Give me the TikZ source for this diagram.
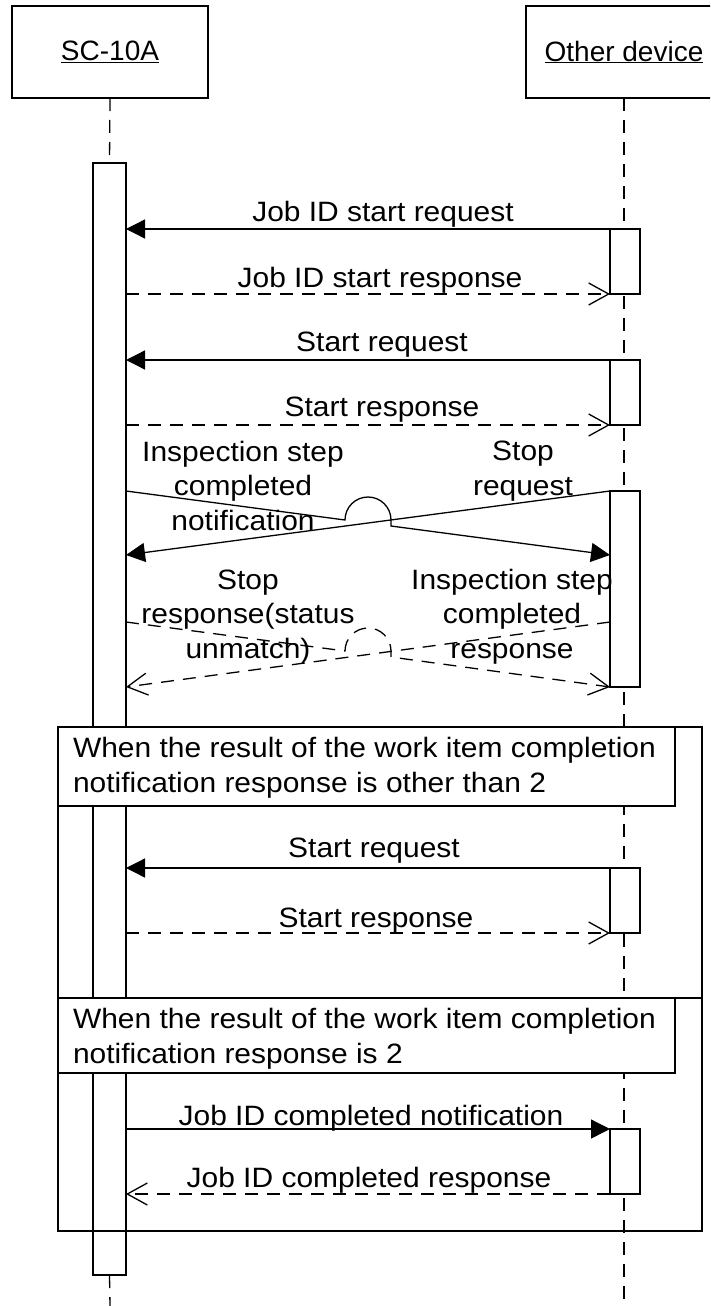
\documentclass[tikz,border=0pt]{standalone}
\usepackage{fontspec}
\setmainfont{Liberation Sans}[FakeStretch=1.07]
\newfontfamily\headfont{Liberation Sans}
\usetikzlibrary{arrows.meta,calc}
\begin{document}
\begin{tikzpicture}[x=1pt,y=-1pt,
  every node/.style={inner sep=0pt, outer sep=0pt},
  lw/.style={line width=1.3pt, line join=miter},
  head/.style={draw, lw, minimum width=196pt, minimum height=92pt, font=\headfont\fontsize{28pt}{34pt}\selectfont},
  life/.style={lw, dash pattern=on 13pt off 9pt},
  actbar/.style={draw, lw, fill=white, minimum width=33pt},
  rbar/.style={draw, lw, fill=white, minimum width=30pt},
  fragframe/.style={draw, lw, anchor=north west, minimum width=644pt},
  fraglabel/.style={draw, lw, fill=white, anchor=north west, minimum width=617pt},
  fragtext/.style={font=\fontsize{28pt}{35pt}\selectfont, anchor=base west, align=left},
  lbl/.style={font=\fontsize{28pt}{34.5pt}\selectfont, anchor=base, align=center},
  msg/.style={lw, -{Triangle[length=19pt,width=19pt]}},
  ret/.style={lw, dash pattern=on 13pt off 9pt, -{Straight Barb[length=20pt,width=22pt]}},
]
\useasboundingbox (0,0) rectangle (710,1306);
\clip (0,0) rectangle (710,1306);
\fill[white] (0,0) rectangle (710,1306);

% participants
\node[head] (sc) at (110,52) {\underline{SC-10A}};
\node[head] (od) at (624,52) {\underline{Other device}};
\coordinate (lend) at (110,1306);
\coordinate (rend) at (624,1306);

% right lifeline (behind the activation bars)
\draw[life] (od.south) -- (rend);

% left activation bar and lifeline
\node[actbar, minimum height=1112pt] (lbar) at (109.5,719) {};
\draw[life] (sc.south) -- (lbar.north);
\draw[life] (lbar.south) -- (lend);

% right activation bars
\node[rbar, minimum height=65pt] (rb1) at (625,261.5) {};
\node[rbar, minimum height=65pt] (rb2) at (625,392.5) {};
\node[rbar, minimum height=196pt] (rb3) at (625,589) {};
\node[rbar, minimum height=65pt] (rb4) at (625,900.5) {};
\node[rbar, minimum height=65pt] (rb5) at (625,1161.5) {};

% combined fragments
\node[fragframe, minimum height=271pt] (f1) at (58,727) {};
\node[fraglabel, minimum height=79pt] (f1l) at (58,727) {};
\node[fragtext] (f1t) at (73,792) {When the result of the work item completion\\notification response is other than 2};
\node[fragframe, minimum height=233pt] (f2) at (58,998) {};
\node[fraglabel, minimum height=75pt] (f2l) at (58,998) {};
\node[fragtext] (f2t) at (73,1063) {When the result of the work item completion\\notification response is 2};

% messages
\draw[msg] (rb1.north west) -- (rb1.north west -| lbar.east);
\node[lbl] (l1) at (383,221) {Job ID start request};
\draw[ret] (rb1.south west -| lbar.east) -- (rb1.south west);
\node[lbl] (l2) at (380,287) {Job ID start response};
\draw[msg] (rb2.north west) -- (rb2.north west -| lbar.east);
\node[lbl] (l3) at (382,351) {Start request};
\draw[ret] (rb2.south west -| lbar.east) -- (rb2.south west);
\node[lbl] (l4) at (382,416) {Start response};

% crossing messages (solid)
\coordinate (sC) at (126,555);
\coordinate (sB) at (610,555);
\draw[msg] (rb3.north west) -- (sC);
\draw[msg] (rb3.north west -| lbar.east) -- (345,520) arc[start angle=180,end angle=0,radius=23pt] -- (391,526) -- (sB);
\node[lbl] (l5) at (243,530) {Inspection step\\completed\\notification};
\node[lbl] (l6) at (523,495) {Stop\\request};

% crossing messages (dashed)
\coordinate (dR) at (610,622);
\coordinate (dL) at (126,687);
\coordinate (dL2) at (126,622);
\draw[ret] (dR) -- (dL);
\draw[ret] (dL2) -- (345,651) arc[start angle=180,end angle=0,radius=23pt] -- (391,657) -- (rb3.south west);
\node[lbl] (l7) at (248,658) {Stop\\response(status\\unmatch)};
\node[lbl] (l8) at (512,658) {Inspection step\\completed\\response};

% fragment 1 messages
\draw[msg] (rb4.north west) -- (rb4.north west -| lbar.east);
\node[lbl] (l9) at (374,857) {Start request};
\draw[ret] (rb4.south west -| lbar.east) -- (rb4.south west);
\node[lbl] (l10) at (376,927) {Start response};

% fragment 2 messages
\draw[msg] (rb5.north west -| lbar.east) -- (rb5.north west);
\node[lbl] (l11) at (371,1125) {Job ID completed notification};
\draw[ret] (rb5.south west) -- (rb5.south west -| lbar.east);
\node[lbl] (l12) at (369,1187) {Job ID completed response};
\end{tikzpicture}
\end{document}
